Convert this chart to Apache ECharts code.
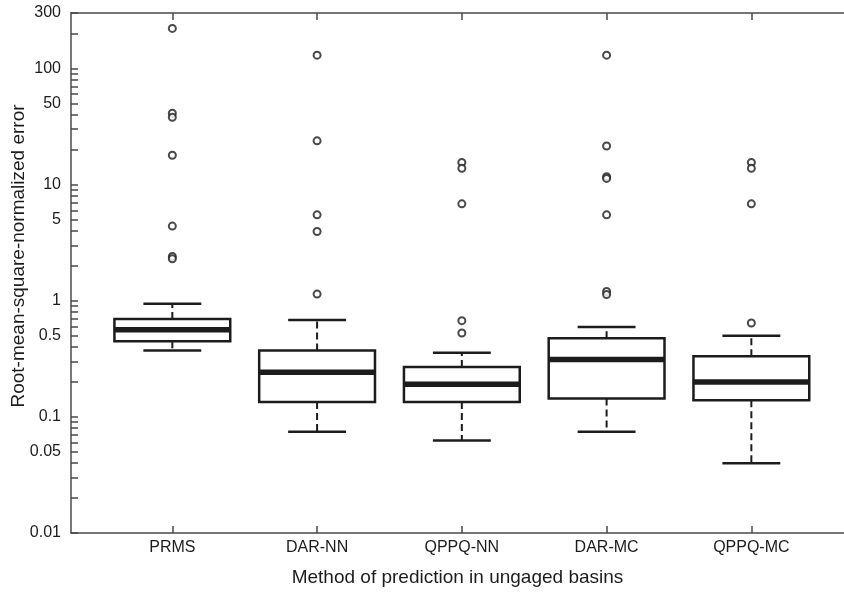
<!DOCTYPE html>
<html>
<head>
<meta charset="utf-8">
<script src="https://cdn.jsdelivr.net/npm/echarts@6/dist/echarts.min.js"></script>
<style>
  html, body { margin: 0; padding: 0; background: #fff; }
  #chart { width: 844px; height: 592px; }
</style>
</head>
<body>
<div id="chart"></div>
<script>
// Prediction methods (x positions 1..5)
const categories = ['PRMS', 'DAR-NN', 'QPPQ-NN', 'DAR-MC', 'QPPQ-MC'];

// Box statistics per method
const lowerWhisker  = [0.372, 0.0743, 0.0626, 0.0743, 0.0399];
const firstQuartile = [0.447, 0.1345, 0.1345, 0.1436, 0.139];
const medians       = [0.563, 0.242, 0.1906, 0.311, 0.2];
const thirdQuartile = [0.696, 0.372, 0.269, 0.474, 0.332];
const upperWhisker  = [0.942, 0.682, 0.357, 0.594, 0.5];

// Outlying values per method
const outliersPRMS   = [221, 41.1, 38.0, 17.9, 4.39, 2.4, 2.3];
const outliersDARNN  = [130, 23.8, 5.49, 3.94, 1.14];
const outliersQPPQNN = [15.5, 13.8, 6.82, 0.673, 0.527];
const outliersDARMC  = [130, 21.5, 11.7, 11.3, 5.49, 1.2, 1.13];
const outliersQPPQMC = [15.5, 13.8, 6.82, 0.643];

// Log-axis tick marks and labelled values
const yTickValues = [
  0.01, 0.02, 0.03, 0.04, 0.05, 0.06, 0.07, 0.08, 0.09,
  0.1, 0.2, 0.3, 0.4, 0.5, 0.6, 0.7, 0.8, 0.9,
  1, 2, 3, 4, 5, 6, 7, 8, 9,
  10, 20, 30, 40, 50, 60, 70, 80, 90,
  100, 200, 300
];
const yLabelValues = [0.01, 0.05, 0.1, 0.5, 1, 5, 10, 50, 100, 300];
const xTickValues = [1, 2, 3, 4, 5];

const INK = '#1c1c1c';
const AXIS = '#4a4a4a';
const FONT = '"Liberation Sans", Arial, sans-serif';

const boxData = categories.map((c, i) => [
  i + 1, lowerWhisker[i], firstQuartile[i], medians[i], thirdQuartile[i], upperWhisker[i]
]);

const outlierGroups = [outliersPRMS, outliersDARNN, outliersQPPQNN, outliersDARMC, outliersQPPQMC];
const outlierData = [];
outlierGroups.forEach((vals, i) => vals.forEach(v => outlierData.push([i + 1, v])));

const BOX_HALF = 0.4;
const CAP_HALF = 0.2;

function renderBox(params, api) {
  const x = api.value(0);
  const pLo = api.coord([x, api.value(1)]);
  const pQ1 = api.coord([x, api.value(2)]);
  const pMed = api.coord([x, api.value(3)]);
  const pQ3 = api.coord([x, api.value(4)]);
  const pHi = api.coord([x, api.value(5)]);
  const bh = api.coord([x + BOX_HALF, 1])[0] - pMed[0];
  const ch = api.coord([x + CAP_HALF, 1])[0] - pMed[0];
  const cx = pMed[0];
  const dashed = { stroke: INK, lineWidth: 2, lineDash: [7, 4], fill: null };
  const solid = { stroke: INK, lineWidth: 2.5, fill: null };
  return {
    type: 'group',
    children: [
      { type: 'line', shape: { x1: cx, y1: pQ3[1], x2: cx, y2: pHi[1] }, style: dashed },
      { type: 'line', shape: { x1: cx, y1: pQ1[1], x2: cx, y2: pLo[1] }, style: dashed },
      { type: 'line', shape: { x1: cx - ch, y1: pHi[1], x2: cx + ch, y2: pHi[1] }, style: solid },
      { type: 'line', shape: { x1: cx - ch, y1: pLo[1], x2: cx + ch, y2: pLo[1] }, style: solid },
      { type: 'rect', shape: { x: cx - bh, y: pQ3[1], width: 2 * bh, height: pQ1[1] - pQ3[1] },
        style: { stroke: INK, lineWidth: 2.5, fill: '#fff' } },
      { type: 'line', shape: { x1: cx - bh, y1: pMed[1], x2: cx + bh, y2: pMed[1] },
        style: { stroke: INK, lineWidth: 5.5 } }
    ]
  };
}

function fmtY(v) {
  return String(+(+v).toPrecision(3));
}

const chart = echarts.init(document.getElementById('chart'), null, { renderer: 'canvas' });
chart.setOption({
  animation: false,
  backgroundColor: '#fff',
  textStyle: { fontFamily: FONT },
  grid: { left: 71, right: 0, top: 13, bottom: 59, containLabel: false, outerBoundsMode: 'none' },
  xAxis: [
    {
      type: 'value', min: 0.3, max: 5.64, position: 'bottom',
      name: 'Method of prediction in ungaged basins',
      nameLocation: 'middle', nameGap: 35, nameMoveOverlap: false,
      nameTextStyle: { color: INK, fontSize: 19, fontFamily: FONT },
      axisLine: { show: true, onZero: false, lineStyle: { color: AXIS, width: 1.5 } },
      axisTick: { show: true, inside: true, length: 7, customValues: xTickValues, lineStyle: { color: AXIS, width: 1.5 } },
      axisLabel: { show: true, customValues: xTickValues, margin: 7, color: INK, fontSize: 16, fontFamily: FONT,
        formatter: v => categories[Math.round(v) - 1] || '' },
      splitLine: { show: false }
    },
    {
      type: 'value', min: 0.3, max: 5.64, position: 'top',
      axisLine: { show: true, onZero: false, lineStyle: { color: AXIS, width: 1.5 } },
      axisTick: { show: true, inside: true, length: 7, customValues: xTickValues, lineStyle: { color: AXIS, width: 1.5 } },
      axisLabel: { show: false },
      splitLine: { show: false }
    }
  ],
  yAxis: {
    type: 'log', logBase: 10, min: 0.01, max: 300,
    name: 'Root-mean-square-normalized error',
    nameLocation: 'middle', nameGap: 43, nameRotate: 90, nameMoveOverlap: false,
    nameTextStyle: { color: INK, fontSize: 19, fontFamily: FONT, padding: [0, 0, 0, 34] },
    axisLine: { show: true, onZero: false, lineStyle: { color: AXIS, width: 1.5 } },
    axisTick: { show: true, inside: true, length: 7, customValues: yTickValues, lineStyle: { color: AXIS, width: 1.5 } },
    axisLabel: { show: true, customValues: yLabelValues, margin: 10, color: INK, fontSize: 16, fontFamily: FONT,
      formatter: fmtY },
    splitLine: { show: false },
    minorTick: { show: false }
  },
  series: [
    {
      type: 'custom',
      xAxisIndex: 0,
      renderItem: renderBox,
      encode: { x: 0, y: [1, 2, 3, 4, 5] },
      data: boxData,
      z: 2
    },
    {
      type: 'scatter',
      xAxisIndex: 0,
      symbol: 'emptyCircle',
      symbolSize: 7,
      itemStyle: { color: INK, borderColor: INK, borderWidth: 2 },
      data: outlierData,
      z: 3
    }
  ]
});
</script>
</body>
</html>
